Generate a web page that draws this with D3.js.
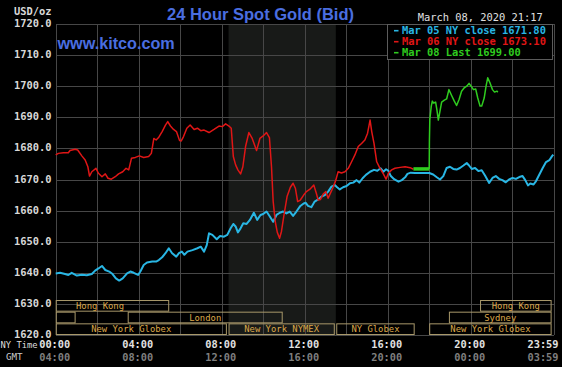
<!DOCTYPE html>
<html><head><meta charset="utf-8">
<script src="https://cdn.jsdelivr.net/npm/d3@7"></script>
<style>html,body{margin:0;padding:0;background:#000;overflow:hidden}</style>
</head><body><svg id="c" width="562" height="367"></svg>
<script>
// ---------- data ----------
const yTicks = [1620,1630,1640,1650,1660,1670,1680,1690,1700,1710,1720];
const tickHours = [0,4,8,12,16,20,24];
const nyTimeLabels = ["00:00","04:00","08:00","12:00","16:00","20:00","23:59"];
const gmtLabels = ["04:00","08:00","12:00","16:00","20:00","00:00","03:59"];

const mar05Hours = [0,0.21,0.45,0.61,0.77,1.02,1.26,1.5,1.74,1.9,2.06,2.23,2.39,2.58,2.74,2.9,3.06,3.23,3.44,3.6,3.76,3.97,4.08,4.24,4.4,4.65,4.84,4.97,5.13,5.29,5.45,5.61,5.81,5.94,6.08,6.2,6.35,6.59,6.83,6.99,7.15,7.28,7.39,7.55,7.76,7.92,8.11,8.27,8.43,8.56,8.67,8.78,8.91,9.04,9.2,9.36,9.55,9.71,9.87,10.0,10.16,10.32,10.48,10.64,10.8,10.96,11.12,11.28,11.44,11.6,11.79,11.95,12.05,12.16,12.32,12.48,12.65,12.81,12.97,13.13,13.29,13.45,13.56,13.69,13.85,14.02,14.18,14.34,14.5,14.63,14.79,14.95,15.15,15.34,15.5,15.66,15.79,15.92,16.03,16.15,16.31,16.52,16.68,16.84,16.95,17.11,17.32,18.0,18.19,18.35,18.52,18.68,18.84,19.0,19.16,19.32,19.48,19.65,19.81,19.92,20.05,20.21,20.37,20.53,20.69,20.89,21.05,21.21,21.37,21.53,21.69,21.85,22.02,22.18,22.34,22.5,22.63,22.76,22.87,23.03,23.15,23.31,23.47,23.63,23.79,23.92,23.98];
const mar05Values = [1639.8,1640.0,1639.6,1639.3,1640.0,1639.1,1639.4,1639.2,1639.6,1640.7,1641.4,1642.2,1640.9,1640.4,1639.6,1638.2,1637.5,1638.2,1639.8,1640.4,1640.0,1639.3,1640.4,1642.5,1643.3,1643.6,1643.6,1644.1,1645.0,1646.3,1647.9,1646.3,1645.2,1646.3,1646.8,1645.8,1646.8,1647.3,1647.9,1648.4,1646.8,1648.9,1652.7,1652.2,1650.8,1651.8,1651.6,1652.2,1654.3,1655.7,1654.9,1653.0,1654.3,1655.9,1655.7,1657.0,1659.3,1657.0,1658.6,1658.9,1659.7,1658.1,1656.4,1658.6,1659.3,1659.7,1659.1,1659.7,1658.3,1659.7,1661.5,1662.3,1662.5,1661.5,1661.1,1662.9,1663.6,1664.5,1665.0,1666.1,1667.7,1668.2,1667.5,1666.8,1667.5,1667.9,1668.8,1669.0,1669.8,1669.0,1670.4,1671.5,1672.5,1673.1,1672.8,1673.6,1672.5,1673.3,1672.8,1671.1,1670.1,1669.3,1669.8,1670.7,1671.8,1672.2,1672.1,1672.1,1671.6,1670.8,1670.0,1671.1,1673.7,1674.1,1673.4,1673.2,1673.7,1674.5,1675.3,1674.5,1673.4,1673.7,1672.7,1673.0,1671.3,1668.9,1670.5,1671.1,1670.2,1669.8,1669.1,1670.0,1670.5,1670.2,1670.8,1671.1,1669.8,1668.1,1668.7,1668.4,1669.5,1671.6,1673.7,1675.6,1676.2,1677.5,1678.0];

const mar06Hours = [0,0.13,0.37,0.61,0.69,0.94,1.06,1.26,1.42,1.55,1.63,1.74,1.94,2.06,2.23,2.39,2.52,2.68,2.87,3.03,3.23,3.39,3.52,3.65,3.84,4.03,4.24,4.48,4.61,4.73,4.84,4.97,5.13,5.29,5.4,5.53,5.68,5.82,5.97,6.05,6.16,6.32,6.48,6.67,6.83,6.99,7.15,7.39,7.63,7.87,8.03,8.19,8.35,8.46,8.56,8.67,8.78,8.91,9.02,9.15,9.31,9.47,9.68,9.84,10.0,10.16,10.3,10.4,10.48,10.58,10.68,10.79,10.88,10.99,11.15,11.31,11.44,11.55,11.66,11.79,11.95,12.08,12.24,12.44,12.56,12.65,12.76,12.89,13.02,13.13,13.24,13.37,13.5,13.61,13.77,13.94,14.1,14.26,14.42,14.58,14.74,14.9,15.03,15.15,15.23,15.34,15.47,15.63,15.79,15.92,16.03,16.19,16.35,16.6,16.84,17.08,17.24];
const mar06Values = [1677.9,1678.4,1678.6,1678.6,1679.3,1679.7,1679.5,1677.6,1676.3,1674.1,1671.1,1672.5,1673.6,1672.0,1670.9,1671.8,1670.4,1670.1,1670.9,1671.8,1672.5,1673.6,1673.1,1676.8,1677.1,1677.6,1677.1,1677.4,1678.4,1683.2,1682.7,1683.6,1685.4,1687.5,1688.6,1687.2,1686.1,1685.4,1682.5,1682.4,1683.8,1686.5,1687.5,1686.1,1686.5,1685.7,1685.9,1685.1,1686.1,1687.2,1687.0,1687.9,1687.2,1686.5,1677.4,1674.7,1673.1,1671.8,1674.1,1680.6,1685.1,1683.2,1679.3,1683.2,1684.0,1685.1,1683.5,1674.1,1663.0,1656.5,1653.0,1651.1,1653.3,1658.1,1664.5,1667.5,1668.8,1667.2,1662.9,1663.4,1665.0,1666.1,1666.8,1668.2,1665.6,1663.4,1663.6,1665.3,1666.1,1664.0,1665.6,1667.5,1669.8,1672.5,1672.1,1672.5,1673.6,1675.7,1677.9,1680.6,1681.6,1682.7,1684.9,1689.1,1685.4,1681.6,1675.7,1673.6,1671.8,1670.1,1672.0,1673.1,1673.6,1673.9,1674.1,1673.8,1673.3];

const mar08Hours = [17.24,18.0,18.01,18.03,18.1,18.15,18.21,18.31,18.37,18.44,18.52,18.6,18.73,18.84,18.95,19.08,19.21,19.32,19.44,19.56,19.69,19.81,19.92,20.02,20.13,20.24,20.34,20.45,20.53,20.65,20.74,20.82,20.94,21.05,21.15,21.26,21.31];
const mar08Values = [1673.4,1673.4,1682.3,1689.3,1693.6,1695.2,1694.6,1694.9,1692.5,1689.1,1692.0,1694.9,1695.5,1695.9,1698.9,1697.0,1695.2,1693.8,1695.7,1698.4,1699.5,1700.0,1700.9,1700.0,1698.9,1699.1,1696.2,1693.6,1693.6,1696.2,1700.0,1702.7,1700.9,1698.9,1698.1,1698.4,1698.1];

const legendLabels = ["Mar 05 NY close 1671.80","Mar 06 NY close 1673.10","Mar 08 Last 1699.00"];

const sessionNames = ["Hong Kong","Hong Kong","Sydney","London","Sydney","New York Globex","New York NYMEX","NY Globex","New York Globex"];
const sessionStart = [-1.2,20.45,-7,3.47,18.95,-0.97,8.33,13.52,18.0];
const sessionEnd   = [5.47,23.9,0.96,10.94,23.9,8.25,13.45,17.3,23.9];
const sessionRow   = [0,0,1,1,1,2,2,2,2];
const nymexHours = [8.33,13.5];

// ---------- layout ----------
const svg = d3.select("#c");
const x = d3.scaleLinear().domain([0,24]).range([55.7,553.7]);
const y = d3.scaleLinear().domain([1620,1720]).range([335,24]);
const mono = "'DejaVu Sans Mono', monospace";
const sans = "'Liberation Sans', Arial, sans-serif";

svg.append("rect").attr("width",562).attr("height",367).attr("fill","#000");

// NYMEX shading
svg.append("rect")
  .attr("x", x(nymexHours[0])).attr("y", y(1720))
  .attr("width", x(nymexHours[1]) - x(nymexHours[0]))
  .attr("height", y(1620) - y(1720))
  .attr("fill", "#181a18");

// grid
const grid = svg.append("g").attr("stroke","#474747").attr("stroke-width",1).attr("shape-rendering","crispEdges");
grid.selectAll("line.h").data(yTicks).join("line")
  .attr("x1", x(0)).attr("x2", x(24))
  .attr("y1", d => Math.round(y(d)) + 0.5).attr("y2", d => Math.round(y(d)) + 0.5);
grid.selectAll("line.v").data(d3.range(0,25,2)).join("line")
  .attr("y1", y(1720)).attr("y2", y(1620))
  .attr("x1", d => Math.round(x(d)) + 0.5).attr("x2", d => Math.round(x(d)) + 0.5);

// session boxes
const rowH = (y(1620) - y(1630)) * 0.375;
const rowTop = r => y(1620) - (3 - r) * rowH;
const sess = svg.append("g");
sessionNames.forEach((name, i) => {
  const x0 = x(Math.max(0, sessionStart[i])), x1 = x(Math.min(24, sessionEnd[i]));
  const t = rowTop(sessionRow[i]);
  sess.append("rect")
    .attr("x", x0 + 0.5).attr("y", t + 0.5)
    .attr("width", x1 - x0 - 1).attr("height", rowH - 1)
    .attr("fill", "none").attr("stroke", "#a8986a").attr("stroke-width", 1);
  const cx = (x(sessionStart[i]) + x1) / 2;
  if (cx > x(0) + 10) {
    sess.append("text").attr("x", cx).attr("y", t + rowH / 2 + 3)
      .attr("text-anchor","middle").attr("font-family", mono).attr("font-size", 8.9)
      .attr("fill", "#dca84a").text(name);
  }
});

// lines
const line = d3.line().x(d => x(d[0])).y(d => y(d[1]));
const zip = (a, b) => a.map((h, i) => [h, b[i]]);
svg.append("path").datum(zip(mar05Hours, mar05Values)).attr("d", line)
  .attr("fill","none").attr("stroke","#29b6e4").attr("stroke-width",2).attr("stroke-linejoin","round");
svg.append("path").datum(zip(mar06Hours, mar06Values)).attr("d", line)
  .attr("fill","none").attr("stroke","#e01616").attr("stroke-width",1.5).attr("stroke-linejoin","round");
const g8 = zip(mar08Hours, mar08Values);
svg.append("path").datum(g8.slice(0,2)).attr("d", line)
  .attr("fill","none").attr("stroke","#2fcc1f").attr("stroke-width",3.5);
svg.append("path").datum(g8.slice(1)).attr("d", line)
  .attr("fill","none").attr("stroke","#2fcc1f").attr("stroke-width",1.5).attr("stroke-linejoin","round");

// y labels
svg.append("text").attr("x",14).attr("y",14.5).attr("font-family",mono).attr("font-weight","bold")
  .attr("font-size",10.4).attr("fill","#d8d8d8").text("USD/oz");
svg.selectAll("text.yl").data(yTicks).join("text")
  .attr("x", 51.5).attr("y", d => y(d) + 3)
  .attr("text-anchor","end").attr("font-family",mono).attr("font-weight","bold")
  .attr("font-size",10.4).attr("fill","#d8d8d8").text(d => d.toFixed(1));

// x labels
svg.selectAll("text.ny").data(tickHours).join("text")
  .attr("x", (d,i) => i === tickHours.length - 1 ? 558.5 : x(d) - 1)
  .attr("y", 348).attr("text-anchor", (d,i) => i === tickHours.length - 1 ? "end" : "middle")
  .attr("font-family",mono).attr("font-weight","bold").attr("font-size",10.3)
  .attr("fill","#e2e2e2").text((d,i) => nyTimeLabels[i]);
svg.selectAll("text.gmt").data(tickHours).join("text")
  .attr("x", (d,i) => i === tickHours.length - 1 ? 558.5 : x(d) - 1)
  .attr("y", 360.5).attr("text-anchor", (d,i) => i === tickHours.length - 1 ? "end" : "middle")
  .attr("font-family",mono).attr("font-weight","bold").attr("font-size",10.3)
  .attr("fill","#7e7e7e").text((d,i) => gmtLabels[i]);
svg.append("text").attr("x",0.5).attr("y",348).attr("font-family",mono)
  .attr("font-size",8.8).attr("fill","#dddddd").text("NY Time");
svg.append("text").attr("x",6).attr("y",360).attr("font-family",mono)
  .attr("font-size",9.2).attr("fill","#cccccc").text("GMT");

// titles
svg.append("text").attr("x",260.5).attr("y",19.5).attr("text-anchor","middle")
  .attr("font-family",sans).attr("font-weight","bold").attr("font-size",16.5)
  .attr("fill","#4a6ee0").text("24 Hour Spot Gold (Bid)");
svg.append("text").attr("x",57.5).attr("y",49).attr("font-family",sans).attr("font-weight","bold")
  .attr("font-size",16.2).attr("fill","#4a6ee0").text("www.kitco.com");
svg.append("text").attr("x",417.7).attr("y",20.7).attr("font-family",mono)
  .attr("font-size",10.4).attr("fill","#e0e0e0").text("March 08, 2020 21:17");

// legend
const legendColors = ["#29b6e4","#e01616","#2fcc1f"];
svg.append("rect").attr("x",387.5).attr("y",24.5).attr("width",165).attr("height",35)
  .attr("fill","#000").attr("stroke","#5c5c5c").attr("stroke-width",1);
legendLabels.forEach((t, i) => {
  const cy = 30.7 + i * 11;
  svg.append("line").attr("x1",394).attr("x2",398.5).attr("y1",cy).attr("y2",cy)
    .attr("stroke",legendColors[i]).attr("stroke-width",1.6);
  svg.append("text").attr("x",402).attr("y",cy + 3.6).attr("font-family",mono)
    .attr("font-weight","bold").attr("font-size",10.4).attr("fill",legendColors[i]).text(t);
});
</script></body></html>
